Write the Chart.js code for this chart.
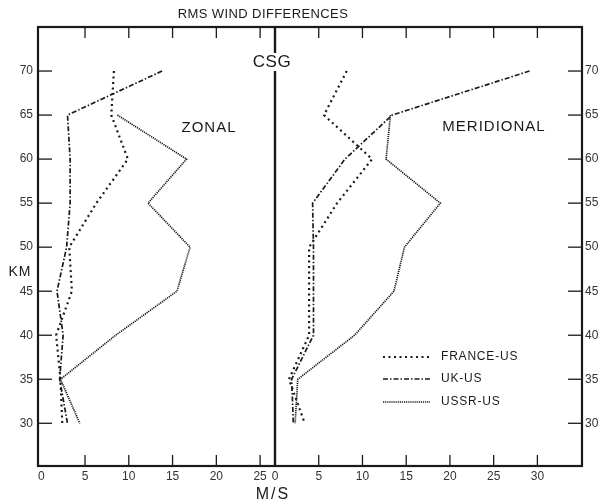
<!DOCTYPE html>
<html><head><meta charset="utf-8">
<script src="https://cdn.jsdelivr.net/npm/chart.js@4.4.1/dist/chart.umd.min.js"></script>
<style>html,body{margin:0;padding:0;background:#fff}#wrap{width:602px;height:503px}</style>
</head><body><div id="wrap"><canvas id="c" width="602" height="503"></canvas></div>
<script>
// ---- data (km altitude vs RMS difference, m/s) ----
const altitudes = [70, 65, 60, 55, 50, 45, 40, 35, 30];
const zonalFranceUS = [8.3, 8.0, 9.9, 6.3, 3.2, 3.5, 1.7, 2.2, 2.4];
const zonalUkUS     = [13.8, 3.0, 3.3, 3.3, 2.9, 1.8, 2.5, 2.1, 3.0];
const zonalUssrUS   = [null, 8.7, 16.6, 12.2, 17.0, 15.5, 8.5, 2.2, 4.4];
const meridFranceUS = [8.2, 5.6, 11.1, 7.1, 3.9, 3.9, 3.9, 1.6, 3.4];
const meridUkUS     = [29.1, 13.4, 8.0, 4.3, 4.4, 4.4, 4.4, 1.9, 2.1];
const meridUssrUS   = [null, 13.2, 12.7, 18.9, 14.8, 13.6, 9.1, 2.6, 2.3];
const kmTicks = [30, 35, 40, 45, 50, 55, 60, 65, 70];
const zonalTicks = [0, 5, 10, 15, 20, 25];
const meridTicks = [0, 5, 10, 15, 20, 25, 30];
const seriesNames = ['FRANCE-US', 'UK-US', 'USSR-US'];
const panelNames = ['ZONAL', 'MERIDIONAL'];
const titleText = 'RMS WIND DIFFERENCES';

const INK = '#1a1a1a';
const styles = [
  {borderDash: [2, 3.5], borderWidth: 2.2},
  {borderDash: [5, 2, 1.5, 2], borderWidth: 1.7},
  {borderDash: [1.2, 0.9], borderWidth: 1.7}
];
function pts(arr) {
  return altitudes.map((a, i) => ({x: arr[i], y: a})).filter(p => p.x !== null);
}
function ds(label, arr, axis, st) {
  return Object.assign({label, data: pts(arr), xAxisID: axis, yAxisID: 'y',
    borderColor: INK, pointRadius: 0, fill: false, tension: 0, borderCapStyle: 'butt'}, st);
}
const datasets = [
  ds(seriesNames[0], zonalFranceUS, 'xz', styles[0]),
  ds(seriesNames[1], zonalUkUS, 'xz', styles[1]),
  ds(seriesNames[2], zonalUssrUS, 'xz', styles[2]),
  ds(seriesNames[0], meridFranceUS, 'xm', styles[0]),
  ds(seriesNames[1], meridUkUS, 'xm', styles[1]),
  ds(seriesNames[2], meridUssrUS, 'xm', styles[2])
];

const tickFont = {family: 'Liberation Sans', size: 12};
function xAxis(weight, min, max, ticksArr) {
  return {type: 'linear', position: 'bottom', stack: 'bx', stackWeight: weight, min, max,
    grid: {display: false, drawTicks: false}, border: {display: false},
    ticks: {color: '#333', font: tickFont, padding: 3, autoSkip: false, maxRotation: 0},
    afterBuildTicks: s => { s.ticks = ticksArr.map(v => ({value: v})); },
    afterFit: s => { s.height = 37; }};
}
function yAxis(pos, width, pad) {
  return {type: 'linear', position: pos, min: 25.15, max: 75,
    grid: {display: false, drawTicks: false}, border: {display: false},
    ticks: {color: '#333', font: tickFont, padding: pad},
    afterBuildTicks: s => { s.ticks = kmTicks.map(v => ({value: v})); },
    afterFit: s => { s.width = width; }};
}

function line(ctx, x1, y1, x2, y2) { ctx.beginPath(); ctx.moveTo(x1, y1); ctx.lineTo(x2, y2); ctx.stroke(); }
function text(ctx, t, x, y, size, align, spacing) {
  ctx.font = size + 'px "Liberation Sans"';
  ctx.letterSpacing = (spacing || 0) + 'px';
  ctx.textAlign = align || 'center';
  ctx.textBaseline = 'middle';
  ctx.fillText(t, x, y);
}

const decor = {
  id: 'decor',
  afterDatasetsDraw(chart) {
    const {ctx, chartArea: a, scales} = chart;
    const xz = scales.xz, xm = scales.xm, y = scales.y;
    ctx.save();
    ctx.strokeStyle = INK; ctx.fillStyle = INK; ctx.setLineDash([]);
    ctx.lineWidth = 1.3;
    kmTicks.forEach(v => {
      const py = y.getPixelForValue(v);
      line(ctx, a.left, py, a.left + 14, py);
      line(ctx, a.right - 14, py, a.right, py);
    });
    zonalTicks.filter(v => v > 0).forEach(v => {
      const px = xz.getPixelForValue(v);
      line(ctx, px, a.bottom, px, a.bottom - 11);
      line(ctx, px, a.top, px, a.top + 11);
    });
    meridTicks.filter(v => v > 0).forEach(v => {
      const px = xm.getPixelForValue(v);
      line(ctx, px, a.bottom, px, a.bottom - 11);
      line(ctx, px, a.top, px, a.top + 11);
    });
    ctx.lineWidth = 2.2;
    ctx.strokeRect(a.left, a.top, a.width, a.height);
    const cx = xm.getPixelForValue(0);
    ctx.lineWidth = 2.4;
    line(ctx, cx, a.top, cx, a.bottom);
    // CSG label over the divider
    ctx.fillStyle = '#fff';
    ctx.fillRect(252, 53, 40, 18);
    ctx.fillStyle = INK;
    text(ctx, 'CSG', 272, 62, 17, 'center', 0.5);
    text(ctx, titleText, 263, 14, 13, 'center', 0.4);
    text(ctx, panelNames[0], 209, 128, 15, 'center', 1);
    text(ctx, panelNames[1], 494, 127, 15, 'center', 1);
    text(ctx, 'KM', 20, 272, 14, 'center', 1);
    text(ctx, 'M/S', 273, 495, 16, 'center', 2);
    // legend
    const rows = [357, 379, 402];
    for (let i = 0; i < 3; i++) {
      const d = datasets[i];
      ctx.lineWidth = d.borderWidth;
      ctx.setLineDash(d.borderDash);
      line(ctx, 383, rows[i], 430, rows[i]);
      ctx.setLineDash([]);
      text(ctx, seriesNames[i], 441, rows[i], 12, 'left', 0.8);
    }
    ctx.restore();
  }
};

new Chart(document.getElementById('c'), {
  type: 'line',
  data: {datasets},
  options: {
    responsive: false, animation: false,
    layout: {padding: {top: 27, left: 0, right: 0, bottom: 0}},
    plugins: {legend: {display: false}, title: {display: false}, tooltip: {enabled: false}},
    scales: {
      xz: xAxis(237, -0.37, 26.7, zonalTicks),
      xm: xAxis(307, 0, 35.1, meridTicks),
      y: yAxis('left', 38, 5),
      y2: yAxis('right', 20, 3)
    }
  },
  plugins: [decor]
});
</script>
</body></html>
